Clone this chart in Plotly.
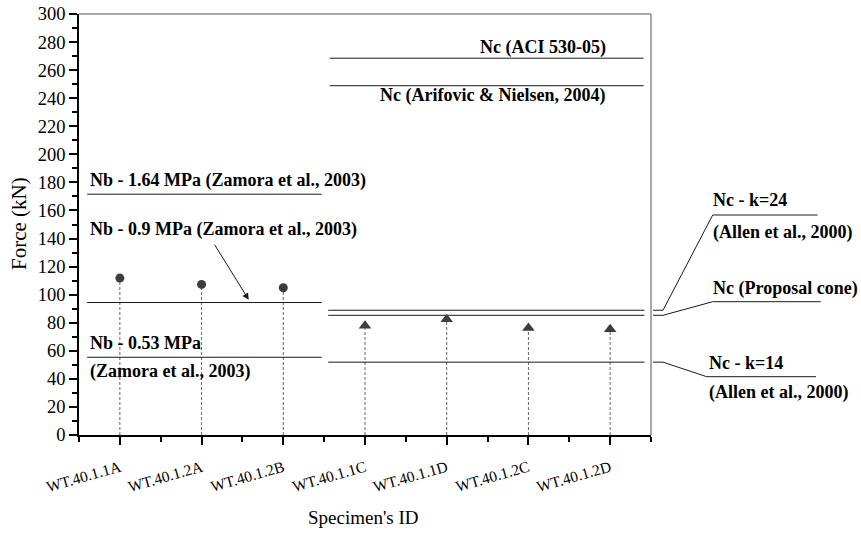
import plotly.graph_objects as go

# ---------------- data ----------------
categories = ["WT.40.1.1A", "WT.40.1.2A", "WT.40.1.2B", "WT.40.1.1C",
              "WT.40.1.1D", "WT.40.1.2C", "WT.40.1.2D"]
circle_idx = [1, 2, 3]
circle_values = [111.8, 107.3, 104.9]
triangle_idx = [4, 5, 6, 7]
triangle_values = [77.8, 82.5, 76.3, 75.4]

nb_names = ["Nb - 1.64 MPa", "Nb - 0.9 MPa", "Nb - 0.53 MPa"]
nb_values = [171.6, 94.4, 55.4]
nc_top_names = ["Nc (ACI 530-05)", "Nc (Arifovic & Nielsen, 2004)"]
nc_top_values = [268.5, 248.9]
nc_side_names = ["Nc - k=24", "Nc (Proposal cone)", "Nc - k=14"]
nc_side_values = [88.9, 85.3, 51.9]

FONT = "Liberation Serif, Times New Roman, DejaVu Serif, serif"
INK = "#1a1a1a"
MARK = "#3d3d3d"

# page geometry (pixels); body margin removed by post_script
W, H = 861, 535
PX0, PX1 = 79, 651      # plot area, page coords
PY0, PY1 = 14, 435
ML, MT = PX0, PY0
PW, PH = PX1 - PX0, PY1 - PY0
MR = W - ML - PW
MB = H - MT - PH
YMAX = 300.0


def px_x(px):
    return (px - PX0) / PW


def px_y(py):
    return (PY1 - py) / PH


def val_y(v):
    return v / YMAX


fig = go.Figure()

# dashed stems
sx, sy = [], []
for i, v in zip(circle_idx + triangle_idx, circle_values + triangle_values):
    sx += [i, i, None]
    sy += [0, v, None]
fig.add_trace(go.Scatter(x=sx, y=sy, mode="lines",
                         line=dict(color="#666666", width=1, dash="3px,2px"),
                         hoverinfo="skip", showlegend=False))


def hline(x0, x1, v):
    fig.add_trace(go.Scatter(x=[x0, x1], y=[v, v], mode="lines",
                             line=dict(color=INK, width=1),
                             hoverinfo="skip", showlegend=False))


for v in nb_values:
    hline(0.6, 3.47, v)
for v in nc_top_values:
    hline(3.57, 7.41, v)
for v in nc_side_values:
    hline(3.55, 7.42, v)

# markers
fig.add_trace(go.Scatter(x=circle_idx, y=circle_values, mode="markers",
                         marker=dict(symbol="circle", size=9, color=MARK),
                         showlegend=False))
fig.add_trace(go.Scatter(x=triangle_idx, y=triangle_values, mode="markers",
                         marker=dict(symbol="triangle-up", size=11, color=MARK),
                         showlegend=False))

ann = []
TF = dict(family=FONT, size=18, color="#000000")


def label(x, y, text, xanchor="left", xref="x", yref="y"):
    ann.append(dict(x=x, y=y, xref=xref, yref=yref, text="<b>%s</b>" % text,
                    showarrow=False, xanchor=xanchor, yanchor="middle", font=TF))


label(0.61, 181.7, nb_names[0] + " (Zamora et al., 2003)")
label(0.61, 146.1, nb_names[1] + " (Zamora et al., 2003)")
label(0.61, 65.6, nb_names[2])
label(0.61, 45.6, "(Zamora et al., 2003)")
label(6.975, 275.8, nc_top_names[0], xanchor="right")
label(6.96, 241.6, nc_top_names[1], xanchor="right")

# arrow for 0.9 MPa
ann.append(dict(x=2.577, y=96.4, xref="x", yref="y", ax=2.148, ay=136.7,
                axref="x", ayref="y", showarrow=True, arrowhead=2,
                arrowsize=1.3, arrowwidth=1, arrowcolor=INK, text=""))

# side connectors and labels (outside plot)
shapes = []
side_targets = [(712.7, 215, 817.7), (712.7, 301.7, 820.7), (706.7, 376.7, 816)]
for v, (xd, yd, xe) in zip(nc_side_values, side_targets):
    yv = val_y(v)
    path = "M %f,%f L %f,%f L %f,%f L %f,%f" % (
        px_x(653), yv, px_x(663), yv, px_x(xd), px_y(yd), px_x(xe), px_y(yd))
    shapes.append(dict(type="path", path=path, xref="paper", yref="paper",
                       line=dict(color=INK, width=1)))

label(px_x(711), px_y(200), nc_side_names[0], xref="paper", yref="paper")
label(px_x(711), px_y(233), "(Allen et al., 2000)", xref="paper", yref="paper")
label(px_x(711), px_y(288), nc_side_names[1], xref="paper", yref="paper")
label(px_x(707), px_y(363), nc_side_names[2], xref="paper", yref="paper")
label(px_x(707), px_y(392), "(Allen et al., 2000)", xref="paper", yref="paper")

# top and right frame (gray)
shapes.append(dict(type="line", xref="paper", yref="paper", x0=0, x1=1, y0=1, y1=1,
                   line=dict(color="#8c8c8c", width=1.5)))
shapes.append(dict(type="line", xref="paper", yref="paper", x0=1, x1=1, y0=0, y1=1,
                   line=dict(color="#8c8c8c", width=1.5)))

# axis titles
ann.append(dict(x=px_x(363), y=px_y(517), xref="paper", yref="paper",
                text="Specimen's ID", showarrow=False, xanchor="center",
                yanchor="middle", font=dict(family=FONT, size=19, color="#000")))
ann.append(dict(x=px_x(19), y=px_y(224), xref="paper", yref="paper",
                text="Force (kN)", showarrow=False, xanchor="center",
                yanchor="middle", textangle=-90,
                font=dict(family=FONT, size=21, color="#000")))

fig.update_layout(
    width=W, height=H,
    margin=dict(l=ML, r=MR, t=MT, b=MB, autoexpand=False),
    plot_bgcolor="white", paper_bgcolor="white",
    font=dict(family=FONT),
    annotations=ann, shapes=shapes,
    showlegend=False,
    hovermode=False,
    xaxis=dict(range=[0.5, 7.5], tickmode="array",
               tickvals=list(range(1, len(categories) + 1)),
               ticktext=categories, tickangle=-16,
               ticks="outside", ticklen=8, tickwidth=1.5, tickcolor="#000",
               minor=dict(tickmode="array",
                          tickvals=[i + 0.5 for i in range(0, len(categories) + 1)],
                          ticks="outside", ticklen=5, tickwidth=1.5, tickcolor="#000"),
               showline=True, linecolor="#000", linewidth=1.5,
               showgrid=False, zeroline=False, ticklabelstandoff=8,
               ticklabeloverflow="allow",
               tickfont=dict(family=FONT, size=15.5, color="#000")),
    yaxis=dict(range=[0, YMAX], dtick=20, tick0=0,
               ticks="outside", ticklen=8, tickwidth=1.5, tickcolor="#000",
               minor=dict(dtick=10, ticks="outside", ticklen=5,
                          tickwidth=1.5, tickcolor="#000"),
               showline=True, linecolor="#000", linewidth=1.5,
               showgrid=False, zeroline=False, ticklabelstandoff=0,
               ticklabeloverflow="allow",
               tickfont=dict(family=FONT, size=18.5, color="#000")),
)

fig.write_html(
    "out.html",
    config={"displayModeBar": False},
    post_script="document.body.style.margin='0';document.body.style.overflow='hidden';",
)
